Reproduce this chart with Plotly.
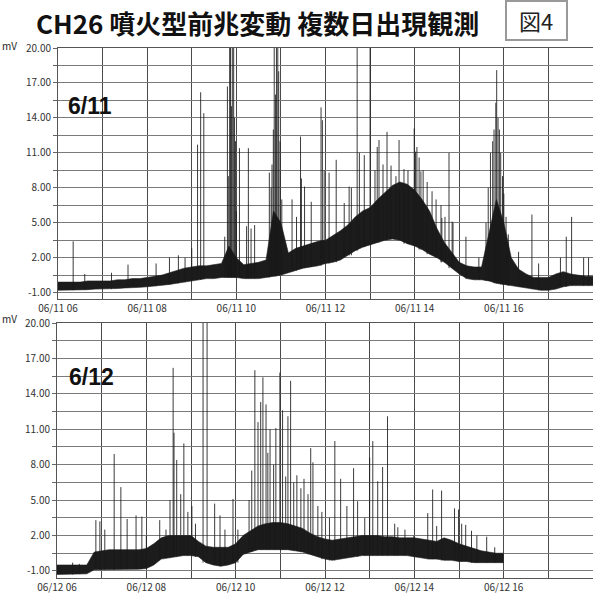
import plotly.graph_objects as go

# ---------------- data ----------------
# 10-minute grid, hours (06:00 .. 18:00 for 6/11, 06:00 .. 16:00 for 6/12)
top_times = [6 + i / 6 for i in range(73)]
bot_times = [6 + i / 6 for i in range(61)]

# 6/11 dense band: lower / upper edge (mV)
top_low = [-0.8, -0.8, -0.8, -0.75, -0.75, -0.7,
           -0.7, -0.7, -0.65, -0.6, -0.6, -0.55,
           -0.5, -0.45, -0.4, -0.3, -0.2, -0.1,
           0.0, 0.1, 0.2, 0.2, 0.3, 0.3,
           0.3, 0.2, 0.2, 0.2, 0.3, 0.4,
           0.5, 0.7, 0.9, 1.1, 1.2, 1.3,
           1.5, 1.6, 1.8, 2.2, 2.6, 2.9,
           3.1, 3.3, 3.5, 3.6, 3.5, 3.2,
           3.0, 2.7, 2.3, 2.0, 1.6, 1.1,
           0.6, 0.2, 0.1, 0.1, 0.0, -0.2,
           -0.3, -0.4, -0.5, -0.6, -0.7, -0.8,
           -0.8, -0.7, -0.5, -0.4, -0.4, -0.4,
           -0.4]
top_high = [-0.1, -0.1, -0.1, -0.1, 0.0, 0.0,
            0.0, 0.0, 0.1, 0.1, 0.2, 0.2,
            0.3, 0.4, 0.5, 0.7, 0.9, 1.1,
            1.2, 1.3, 1.3, 1.4, 1.5, 3.0,
            2.0, 1.4, 1.5, 1.6, 1.8, 6.0,
            5.0, 2.4, 2.8, 3.0, 3.2, 3.4,
            3.5, 3.9, 4.3, 4.8, 5.5, 6.0,
            6.3, 7.0, 7.6, 8.2, 8.5, 8.3,
            7.8, 7.0, 6.0, 4.5, 3.3, 2.4,
            1.6, 1.3, 1.2, 1.2, 4.0, 7.0,
            5.0, 2.0, 1.0, 0.6, 0.3, 0.3,
            0.3, 0.6, 0.8, 0.6, 0.5, 0.4,
            0.4]

# 6/11 spikes: time (h), peak (mV)
top_spike_t = [6.34, 6.6, 7.2, 7.57, 8.2, 8.5, 8.7, 8.85, 9.0, 9.13, 9.2, 9.27, 9.74,
               9.8, 9.82, 9.85, 9.87, 9.89, 9.91, 9.94, 9.96, 9.98, 10.0,
               10.07, 10.23, 10.27, 10.33, 10.41,
               10.74, 10.78, 10.8, 10.83, 10.85, 10.88, 10.9, 10.93, 10.95, 10.98, 11.02,
               11.25, 11.35, 11.44, 11.46, 11.53, 11.68, 11.9, 11.93, 11.97, 12.08, 12.24,
               12.42, 12.53, 12.58,
               12.71, 12.76, 12.87, 13.0, 13.11, 13.16, 13.2, 13.29, 13.38, 13.47, 13.58,
               13.65, 13.76, 13.85, 13.99, 14.02, 14.05, 14.1, 14.14, 14.19, 14.28, 14.39,
               14.48, 14.59, 14.61, 14.68, 14.77, 14.84, 14.86, 15.15, 15.44,
               15.6, 15.65, 15.7, 15.75, 15.78, 15.82, 15.84, 15.87, 15.9, 15.93,
               15.97, 16.0, 16.05, 16.1,
               16.33, 16.63, 16.78, 17.27, 17.4, 17.52, 17.79, 17.9]
top_spike_v = [3.4, 0.6, 0.7, 1.4, 1.5, 2.0, 2.2, 2.0, 2.8, 11.7, 16.2, 14.4, 3.8,
               16.7, 9.0, 21.0, 21.0, 15.0, 21.0, 21.0, 14.0, 12.0, 6.0,
               11.4, 4.7, 11.4, 4.5, 4.8,
               9.3, 8.0, 10.0, 13.0, 21.0, 16.0, 21.0, 21.0, 18.0, 12.0, 7.0,
               7.0, 5.5, 12.4, 8.8, 8.1, 6.8, 14.9, 13.8, 9.5, 9.3, 10.4,
               6.7, 8.1, 8.0,
               21.0, 11.0, 10.8, 21.0, 9.5, 11.5, 12.1, 10.0, 12.8, 9.9, 9.0,
               12.1, 9.6, 9.5, 13.1, 11.1, 11.5, 10.6, 9.4, 9.5, 8.5, 7.7,
               7.0, 6.5, 5.4, 5.5, 11.0, 5.1, 5.0, 3.8, 2.0,
               5.0, 8.0, 11.0, 12.0, 13.0, 15.3, 18.1, 14.0, 13.0, 11.0,
               9.0, 7.5, 5.5, 4.0,
               2.5, 5.7, 1.5, 2.0, 3.8, 5.5, 2.0, 2.0]

# 6/12 dense band: lower / upper edge (mV)
bot_low = [-1.3, -1.3, -1.3, -1.25, -1.25, -0.9,
           -0.9, -0.9, -0.9, -0.85, -0.85, -0.85,
           -0.8, -0.5, 0.0, 0.1, 0.2, 0.3,
           0.3, 0.2, -0.3, -0.5, -0.6, -0.5,
           -0.3, 0.4, 0.6, 0.8, 0.8, 0.8,
           0.8, 0.8, 0.7, 0.6, 0.4, 0.2,
           0.0, -0.1, 0.0, 0.1, 0.2, 0.3,
           0.3, 0.3, 0.3, 0.3, 0.3, 0.3,
           0.2, 0.1, 0.0, 0.0, -0.1, -0.1,
           -0.2, -0.2, -0.3, -0.3, -0.3, -0.3,
           -0.3]
bot_high = [-0.5, -0.5, -0.5, -0.5, -0.5, 0.6,
            0.7, 0.8, 0.8, 0.8, 0.8, 0.8,
            0.9, 1.3, 1.8, 2.0, 2.0, 2.0,
            2.0, 1.5, 1.1, 1.0, 1.0, 1.0,
            1.3, 2.0, 2.4, 2.8, 3.0, 3.1,
            3.1, 3.0, 2.8, 2.6, 2.2, 1.9,
            1.7, 1.6, 1.7, 1.8, 1.9, 2.0,
            2.0, 2.0, 1.9, 1.9, 1.8, 1.8,
            1.8, 1.7, 1.6, 1.5, 1.8, 1.6,
            1.3, 1.1, 0.9, 0.7, 0.6, 0.5,
            0.5]

# 6/12 spikes: time (h), peak (mV)
bot_spike_t = [6.35, 6.5, 6.87, 6.96, 7.07, 7.28, 7.43, 7.57, 7.77, 7.9, 8.0,
               8.3, 8.44, 8.53, 8.6, 8.62, 8.68, 8.77, 8.84, 8.93, 9.02, 9.1,
               9.27, 9.36, 9.53, 9.65, 9.76, 9.94, 10.05,
               10.3, 10.36, 10.43, 10.5, 10.56, 10.61, 10.68, 10.72, 10.77, 10.85,
               10.9, 10.99, 11.05, 11.12, 11.17, 11.23, 11.3, 11.37, 11.46, 11.53,
               11.62, 11.68, 11.73, 11.84, 11.93, 12.1, 12.22, 12.35, 12.49, 12.64,
               12.73, 12.89, 13.0, 13.07, 13.18, 13.29, 13.4, 13.56, 13.63, 13.79,
               13.99, 14.3, 14.41, 14.5, 14.61, 14.9, 14.99, 15.06, 15.15, 15.28,
               15.4, 15.62, 15.8]
bot_spike_v = [-0.3, -0.4, 3.3, 3.2, 2.5, 8.9, 6.1, 3.4, 3.7, 3.6, 2.0,
               3.3, 2.5, 5.0, 16.2, 10.7, 8.4, 5.5, 9.8, 4.0, 4.5, 3.0,
               21.0, 21.0, 4.7, 3.7, 2.5, 5.1, 2.5,
               5.0, 7.5, 16.0, 11.6, 13.3, 15.4, 13.1, 9.0, 11.0, 8.0,
               11.1, 15.8, 12.6, 7.0, 12.1, 15.1, 6.5, 7.1, 6.0, 6.8,
               5.5, 9.4, 8.2, 4.5, 4.0, 3.5, 10.0, 6.8, 4.5, 7.7,
               4.9, 3.5, 8.6, 10.0, 6.6, 7.8, 12.1, 3.0, 2.7, 2.5,
               2.0, 3.9, 5.9, 2.8, 5.8, 4.3, 4.2, 3.0, 2.9, 2.4,
               2.0, 1.9, 1.0]

y_tick_labels = ["-1.00", "2.00", "5.00", "8.00", "11.00", "14.00", "17.00", "20.00"]
top_x_labels = ["06/11 06", "06/11 08", "06/11 10", "06/11 12", "06/11 14", "06/11 16"]
bot_x_labels = ["06/12 06", "06/12 08", "06/12 10", "06/12 12", "06/12 14", "06/12 16"]
x_tick_hours = [6, 8, 10, 12, 14, 16]

# ---------------- figure ----------------
W, H = 593, 599
FONT = "Noto Sans CJK JP"
INK = "#1c1c1c"

fig = go.Figure()


def add_panel(times, low, high, st, sv, xa, ya):
    fig.add_trace(go.Scatter(x=times, y=low, mode="lines", line=dict(width=0.6, color=INK),
                             xaxis=xa, yaxis=ya, showlegend=False, hoverinfo="skip"))
    fig.add_trace(go.Scatter(x=times, y=high, mode="lines", line=dict(width=0.6, color=INK),
                             fill="tonexty", fillcolor=INK,
                             xaxis=xa, yaxis=ya, showlegend=False, hoverinfo="skip"))
    xs, ys = [], []
    for t, v in zip(st, sv):
        base = low[int(round((t - 6) * 6))]
        xs += [t, t, None]
        ys += [base, v, None]
    fig.add_trace(go.Scatter(x=xs, y=ys, mode="lines", line=dict(width=1, color="rgba(25,25,25,0.85)"),
                             xaxis=xa, yaxis=ya, showlegend=False, hoverinfo="skip",
                             connectgaps=False))


add_panel(top_times, top_low, top_high, top_spike_t, top_spike_v, "x", "y")
add_panel(bot_times, bot_low, bot_high, bot_spike_t, bot_spike_v, "x2", "y2")

# y grid every 1.5 mV, labels every 3 mV
y_grid = [-1 + 1.5 * i for i in range(15)]
y_text = [y_tick_labels[i // 2] if i % 2 == 0 else "" for i in range(15)]

x_grid = list(range(6, 19))


def x_text(labels):
    return [labels[x_tick_hours.index(h)] if h in x_tick_hours else "" for h in x_grid]


tickfont = dict(family=FONT, size=10, color="#333")
xa_common = dict(showgrid=True, gridcolor="#4a4a4a", gridwidth=1, showline=True, mirror=True,
                 linecolor="#555", linewidth=1, zeroline=False, automargin=False,
                 tickfont=tickfont, range=[6, 18], tickmode="array", tickvals=x_grid)
ya_common = dict(showgrid=True, gridcolor="#7a7a7a", gridwidth=1, showline=True, mirror=True,
                 linecolor="#555", linewidth=1, zeroline=False, automargin=False,
                 tickfont=tickfont, tickmode="array", tickvals=y_grid, ticktext=y_text,
                 ticks="outside", ticklen=4, tickcolor="#666")

top_dom = [1 - 299 / H, 1 - 48 / H]
bot_dom = [1 - 578 / H, 1 - 323 / H]

fig.update_layout(
    width=W, height=H, margin=dict(l=0, r=0, t=0, b=0, autoexpand=False),
    paper_bgcolor="white", plot_bgcolor="white",
    xaxis=dict(domain=[58 / W, 1.0], ticktext=x_text(top_x_labels), anchor="y", **xa_common),
    yaxis=dict(domain=top_dom, range=[-1.55, 20], anchor="x", **ya_common),
    xaxis2=dict(domain=[57 / W, 1.0], ticktext=x_text(bot_x_labels), anchor="y2", **xa_common),
    yaxis2=dict(domain=bot_dom, range=[-1.6, 20], anchor="x2", **ya_common),
)

fig.add_annotation(text="<b>CH26 噴火型前兆変動 複数日出現観測</b>", x=34 / W, y=1 - 23 / H,
                   xref="paper", yref="paper", showarrow=False,
                   font=dict(family=FONT, size=26, color="#111"), xanchor="left", yanchor="middle")
fig.add_shape(type="rect", xref="paper", yref="paper", x0=506 / W, x1=567 / W,
              y0=1 - 40 / H, y1=1 - 1 / H, line=dict(color="#999", width=2), fillcolor="white")
fig.add_annotation(text="図4", x=536 / W, y=1 - 20 / H, xref="paper", yref="paper", showarrow=False,
                   font=dict(family=FONT, size=22, color="#222"), xanchor="center", yanchor="middle")
fig.add_annotation(text="mV", x=0, y=1 - 45 / H, xref="paper", yref="paper", showarrow=False,
                   font=dict(family=FONT, size=10, color="#222"), xanchor="left", yanchor="middle")
fig.add_annotation(text="mV", x=0, y=1 - 318 / H, xref="paper", yref="paper", showarrow=False,
                   font=dict(family=FONT, size=10, color="#222"), xanchor="left", yanchor="middle")
fig.add_annotation(text="<b>6/11</b>", x=66 / W, y=1 - 106 / H, xref="paper", yref="paper",
                   showarrow=False, font=dict(family="Liberation Sans", size=23, color="#111"),
                   xanchor="left", yanchor="middle")
fig.add_annotation(text="<b>6/12</b>", x=67 / W, y=1 - 377 / H, xref="paper", yref="paper",
                   showarrow=False, font=dict(family="Liberation Sans", size=23, color="#111"),
                   xanchor="left", yanchor="middle")

fig.write_html("out.html", config={"displayModeBar": False},
               post_script="document.body.style.margin='0';document.body.style.overflow='hidden';")
